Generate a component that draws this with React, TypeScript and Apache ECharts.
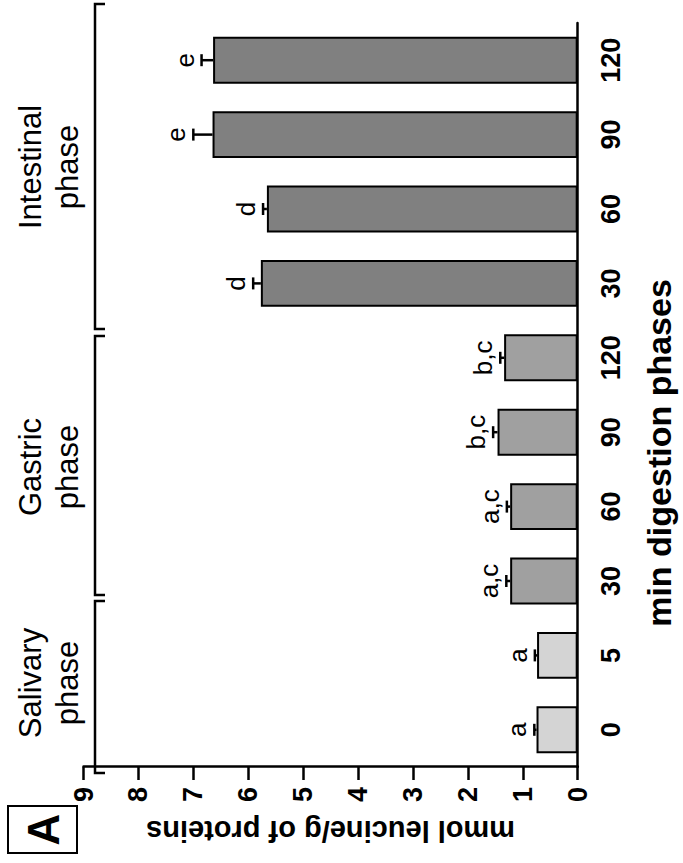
import React, { useEffect, useRef } from "react";
import * as echarts from "echarts";

const categories = ["0", "5", "30", "60", "90", "120", "30", "60", "90", "120"];
const phaseOfBar = ["Salivary", "Salivary", "Gastric", "Gastric", "Gastric", "Gastric", "Intestinal", "Intestinal", "Intestinal", "Intestinal"];
const values = [0.75, 0.74, 1.23, 1.23, 1.46, 1.34, 5.77, 5.66, 6.65, 6.64];
const errors = [0.04, 0.04, 0.07, 0.06, 0.08, 0.07, 0.14, 0.07, 0.35, 0.21];
const letters = ["a", "a", "a,c", "a,c", "b,c", "b,c", "d", "d", "e", "e"];
const phaseColors: Record<string, string> = { Salivary: "#d4d4d4", Gastric: "#a0a0a0", Intestinal: "#808080" };
const valueMin = 0;
const valueMax = 9;
const valueInterval = 1;

const FONT = "'Liberation Sans', Arial, Helvetica, sans-serif";

export default function App() {
  const ref = useRef<HTMLDivElement>(null);
  useEffect(() => {
    if (!ref.current) return;
    const chart = echarts.init(ref.current, undefined, { renderer: "svg" });

    const brackets = [
      { name: "Salivary", x1: 90, x2: 262, cx: 180 },
      { name: "Gastric", x1: 268, x2: 527, cx: 396 },
      { name: "Intestinal", x1: 534, x2: 859, cx: 696 },
    ];

    const graphics: any[] = [];
    brackets.forEach((b) => {
      graphics.push({
        type: "polyline",
        shape: { points: [[b.x1, 105], [b.x1, 95], [b.x2, 95], [b.x2, 105]] },
        style: { stroke: "#000", lineWidth: 2.5, fill: "none" },
        silent: true,
      });
      graphics.push({
        type: "text",
        x: b.cx,
        y: 12,
        style: {
          text: b.name + "\nphase",
          fontSize: 31,
          lineHeight: 37,
          fontFamily: FONT,
          fill: "#000",
          align: "center",
          verticalAlign: "top",
        },
      });
    });
    graphics.push({
      type: "rect",
      shape: { x: 10, y: 8, width: 47, height: 69 },
      style: { stroke: "#000", lineWidth: 2, fill: "#fff" },
    });
    graphics.push({
      type: "text",
      x: 33.5,
      y: 43,
      style: {
        text: "A",
        fontSize: 44,
        fontWeight: "bold",
        fontFamily: FONT,
        fill: "#000",
        align: "center",
        verticalAlign: "middle",
      },
    });

    chart.setOption({
      animation: false,
      backgroundColor: "#fff",
      grid: { left: 96, right: 23, top: 83.5, bottom: 105.3, containLabel: false },
      xAxis: {
        type: "category",
        data: categories,
        boundaryGap: true,
        name: "min digestion phases",
        nameLocation: "middle",
        nameGap: 64,
        nameTextStyle: {
          fontSize: 34,
          fontWeight: "bold",
          fontFamily: FONT,
          color: "#000",
          padding: [0, 116, 0, 0],
        },
        axisLine: { lineStyle: { color: "#000", width: 2.5 } },
        axisTick: { show: false },
        axisLabel: { fontSize: 27, fontWeight: "bold", fontFamily: FONT, color: "#000", margin: 20, interval: 0 },
        splitLine: { show: false },
      },
      yAxis: {
        type: "value",
        min: valueMin,
        max: valueMax,
        interval: valueInterval,
        name: "mmol leucine/g of proteins",
        nameLocation: "middle",
        nameGap: 49,
        nameTextStyle: { fontSize: 29, fontWeight: "bold", fontFamily: FONT, color: "#000" },
        axisLine: { show: true, lineStyle: { color: "#000", width: 2.5 } },
        axisTick: { show: true, length: 13, lineStyle: { color: "#000", width: 2.5 } },
        axisLabel: { fontSize: 27, fontWeight: "bold", fontFamily: FONT, color: "#000", margin: 20 },
        splitLine: { show: false },
      },
      series: [
        {
          type: "bar",
          barWidth: "63%",
          data: values.map((v, i) => ({
            value: v,
            itemStyle: { color: phaseColors[phaseOfBar[i]] },
          })),
          itemStyle: { borderColor: "#000", borderWidth: 2 },
          z: 2,
        },
        {
          type: "custom",
          z: 3,
          data: values.map((v, i) => [i, v, errors[i]]),
          encode: { x: 0, y: 1 },
          renderItem: (params: any, api: any) => {
            const i = api.value(0);
            const v = api.value(1);
            const e = api.value(2);
            const base = api.coord([i, v]);
            const top = api.coord([i, v + e]);
            const cap = 6;
            return {
              type: "group",
              children: [
                {
                  type: "line",
                  shape: { x1: base[0], y1: base[1], x2: top[0], y2: top[1] },
                  style: { stroke: "#000", lineWidth: 2.5 },
                },
                {
                  type: "line",
                  shape: { x1: top[0] - cap, y1: top[1], x2: top[0] + cap, y2: top[1] },
                  style: { stroke: "#000", lineWidth: 2.5 },
                },
                {
                  type: "text",
                  x: top[0],
                  y: top[1] - 4,
                  style: {
                    text: letters[params.dataIndex],
                    fontSize: 26,
                    fontFamily: FONT,
                    fill: "#000",
                    align: "center",
                    verticalAlign: "bottom",
                  },
                },
              ],
            };
          },
        },
      ],
      graphic: graphics,
    });
    return () => chart.dispose();
  }, []);

  return (
    <div
      style={{
        position: "fixed",
        left: 0,
        top: 0,
        width: 683,
        height: 863,
        overflow: "hidden",
        background: "#fff",
      }}
    >
      <div
        ref={ref}
        style={{
          position: "absolute",
          left: 0,
          top: 0,
          width: 863,
          height: 683,
          transformOrigin: "0 0",
          transform: "translate(0px, 863px) rotate(-90deg)",
        }}
      />
    </div>
  );
}
